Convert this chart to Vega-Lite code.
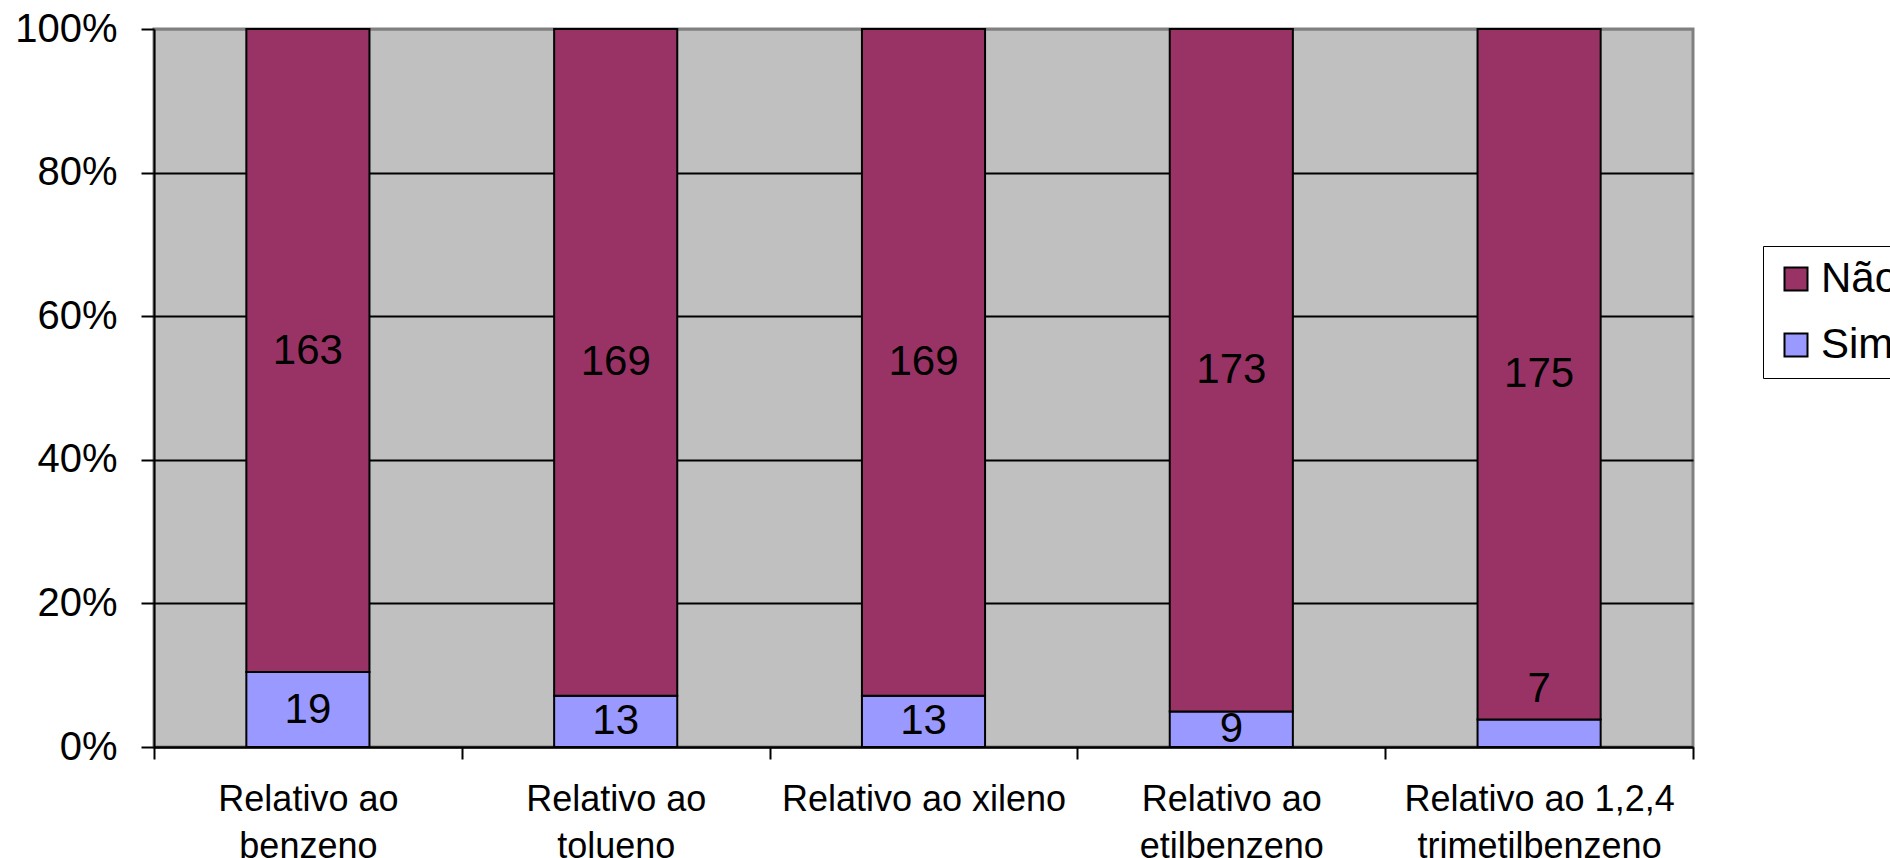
{
  "$schema": "https://vega.github.io/schema/vega-lite/v6.json",
  "width": 1539,
  "height": 718,
  "autosize": {"type": "none"},
  "padding": {"left": 154, "top": 29, "right": 197, "bottom": 111},
  "background": "white",
  "config": {
    "font": "Liberation Sans",
    "view": {"fill": "#C0C0C0", "stroke": "#808080", "strokeWidth": 3}
  },
  "data": {
    "values": [
      {"categoria": "Relativo ao benzeno", "resposta": "Sim", "n": 19},
      {"categoria": "Relativo ao benzeno", "resposta": "Não", "n": 163},
      {"categoria": "Relativo ao tolueno", "resposta": "Sim", "n": 13},
      {"categoria": "Relativo ao tolueno", "resposta": "Não", "n": 169},
      {"categoria": "Relativo ao xileno", "resposta": "Sim", "n": 13},
      {"categoria": "Relativo ao xileno", "resposta": "Não", "n": 169},
      {"categoria": "Relativo ao etilbenzeno", "resposta": "Sim", "n": 9},
      {"categoria": "Relativo ao etilbenzeno", "resposta": "Não", "n": 173},
      {"categoria": "Relativo ao 1,2,4 trimetilbenzeno", "resposta": "Sim", "n": 7},
      {"categoria": "Relativo ao 1,2,4 trimetilbenzeno", "resposta": "Não", "n": 175}
    ]
  },
  "encoding": {
    "x": {
      "field": "categoria",
      "type": "nominal",
      "sort": null,
      "scale": {"paddingInner": 0, "paddingOuter": 0},
      "axis": {
        "title": null,
        "labelAngle": 0,
        "labelLimit": 0,
        "labelFontSize": 36,
        "labelColor": "black",
        "labelLineHeight": 47,
        "labelPadding": 23,
        "labelExpr": "datum.label == 'Relativo ao xileno' ? datum.label : [slice(datum.label, 0, lastindexof(datum.label, ' ')), slice(datum.label, lastindexof(datum.label, ' ') + 1)]",
        "tickBand": "extent",
        "tickSize": 12,
        "tickWidth": 2,
        "tickColor": "black",
        "domainColor": "black",
        "domainWidth": 2,
        "grid": false
      }
    },
    "y": {
      "field": "n",
      "type": "quantitative",
      "stack": "normalize",
      "scale": {"domain": [0, 1]},
      "axis": {
        "title": null,
        "values": [0, 0.2, 0.4, 0.6, 0.8, 1],
        "format": ".0%",
        "labelFontSize": 40,
        "labelColor": "black",
        "labelPadding": 24,
        "tickSize": 13,
        "tickWidth": 2,
        "tickColor": "black",
        "domainColor": "black",
        "domainWidth": 2,
        "grid": true,
        "gridWidth": 2,
        "gridColor": {"condition": {"test": "datum.value > 0.99", "value": "#808080"}, "value": "black"}
      }
    },
    "order": {"field": "resposta", "sort": "descending"}
  },
  "layer": [
    {
      "mark": {"type": "bar", "stroke": "black", "strokeWidth": 2, "width": {"band": 0.4}},
      "encoding": {
        "color": {
          "field": "resposta",
          "type": "nominal",
          "scale": {"domain": ["Não", "Sim"], "range": ["#993366", "#9999FF"]},
          "legend": {
            "title": null,
            "orient": "none",
            "legendX": 1609,
            "legendY": 217,
            "labelFontSize": 42,
            "labelColor": "black",
            "labelOffset": 4,
            "symbolType": "square",
            "symbolSize": 529,
            "symbolStrokeColor": "black",
            "symbolStrokeWidth": 2,
            "rowPadding": 24,
            "padding": 12,
            "strokeColor": "black",
            "fillColor": "white",
            "labelLimit": 0
          }
        }
      }
    },
    {
      "mark": {"type": "text", "fontSize": 42, "color": "black", "baseline": "middle", "align": "center", "dy": {"expr": "datum.resposta === 'Sim' && datum.n < 8 ? -44 : 0"}},
      "encoding": {
        "y": {"field": "n", "type": "quantitative", "stack": "normalize", "bandPosition": 0.5},
        "text": {"field": "n", "type": "quantitative"}
      }
    }
  ]
}
